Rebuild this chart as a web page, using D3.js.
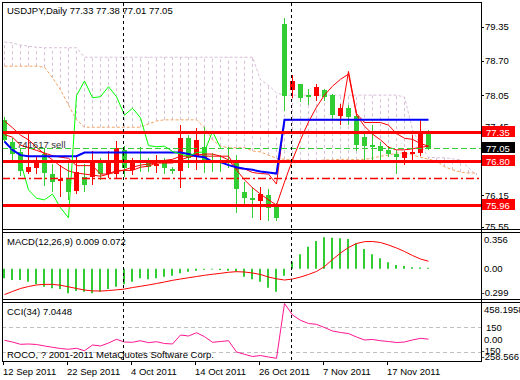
<!DOCTYPE html>
<html>
<head>
<meta charset="utf-8">
<script src="https://cdn.jsdelivr.net/npm/d3@7/dist/d3.min.js"></script>
<style>
  body { margin: 0; background: #fff; }
  svg text { font-family: "Liberation Sans", Arial, sans-serif; font-size: 9.5px; fill: #000; }
</style>
</head>
<body>
<svg id="chart" width="520" height="380"></svg>
<script>
// USDJPY daily, bar 0 = 12 Sep 2011, last bar = 24 Nov 2011
const opens  = [77.58,77.16,76.96,76.59,76.66,76.93,76.55,76.42,76.45,76.21,76.49,76.50,76.80,76.55,76.56,77.01,76.63,76.80,76.79,76.70,76.79,76.65,76.61,77.24,76.88,77.07,76.82,76.82,76.82,76.79,76.21,76.09,76.04,76.15,75.95,79.40,78.15,78.26,78.05,78.04,78.15,78.05,77.65,77.80,77.65,77.25,77.11,77.08,77.01,76.94,76.84,76.94,76.94,77.33];
const highs  = [77.63,77.24,77.03,77.36,76.87,77.04,76.75,76.72,76.82,76.91,76.75,76.98,76.85,76.98,77.18,77.08,76.85,77.07,76.86,76.91,76.85,76.69,77.48,77.29,77.43,77.44,76.95,76.91,77.06,76.91,76.40,76.30,76.30,76.27,76.00,79.51,78.43,78.27,78.17,78.26,78.17,78.08,77.89,77.86,77.70,77.37,77.48,77.15,77.08,77.01,76.99,77.29,77.59,77.38];
const lows   = [77.16,76.79,76.51,76.55,76.56,76.32,76.21,76.11,76.06,76.18,76.21,76.34,76.44,76.47,76.47,76.50,76.53,76.59,76.59,76.57,76.56,76.56,76.29,76.67,76.63,76.57,76.59,76.59,76.67,75.81,75.96,75.72,75.68,75.65,75.65,77.74,77.99,77.92,77.86,77.94,77.94,77.58,77.48,77.48,76.98,76.79,76.82,76.82,76.87,76.56,76.72,76.82,76.90,77.01];
const closes = [77.20,76.94,76.59,76.68,76.79,76.56,76.40,76.46,76.21,76.58,76.34,76.82,76.56,76.82,77.05,76.66,76.80,76.77,76.68,76.74,76.66,76.61,77.24,76.86,77.20,76.81,76.79,76.77,76.78,76.25,76.09,76.06,76.17,75.91,75.72,78.04,78.32,78.00,78.02,78.21,78.02,77.67,77.80,77.62,77.09,77.07,77.08,76.98,76.93,76.89,76.96,76.97,77.36,77.05];

// ichimoku lines
const tenkan = [77.30,77.25,77.10,77.05,77.00,76.95,76.90,76.87,76.85,76.71,76.71,76.71,76.55,76.55,76.62,76.62,76.62,76.68,76.70,76.76,76.81,76.83,76.89,76.89,76.89,76.89,76.89,76.89,76.89,76.65,76.65,76.58,76.56,76.55,76.36,77.58,77.58,77.58,77.58,77.58,77.58,77.58,77.58,78.50,77.70,77.53,77.53,77.53,77.48,77.32,77.23,77.21,77.13,77.08];
const kijun  = [77.17,77.01,76.91,76.89,76.89,76.89,76.89,76.89,76.89,76.89,76.96,76.96,76.96,76.96,76.96,76.96,76.96,76.96,76.96,76.96,76.96,76.96,76.96,76.93,76.89,76.87,76.78,76.78,76.72,76.68,76.65,76.63,76.60,76.58,76.56,77.58,77.58,77.58,77.58,77.58,77.58,77.58,77.58,77.58,77.58,77.58,77.58,77.58,77.58,77.58,77.58,77.58,77.58,77.58];
const spanA  = [78.60,78.60,78.60,78.60,78.60,78.58,78.38,78.15,77.86,77.58,77.44,77.44,77.44,77.44,77.44,77.44,77.44,77.44,77.50,77.56,77.58,77.58,77.58,77.58,77.58,77.43,77.20,77.08,77.05,77.05,77.05,76.99,76.97,76.91,76.85,76.83,76.82,76.80,76.78,76.80,76.82,76.82,76.83,76.83,76.82,76.83,76.85,76.89,76.91,76.95,76.95,76.91,76.87,76.83,76.80,76.69,76.63,76.59,76.57,76.57];
const spanB  = [79.06,79.04,79.00,78.98,78.96,78.95,78.95,78.95,78.95,78.95,78.77,78.77,78.77,78.77,78.77,78.77,78.77,78.77,78.77,78.77,78.77,78.77,78.77,78.77,78.77,78.77,78.77,78.77,78.77,78.77,78.77,78.77,78.34,78.24,78.09,78.05,78.05,78.05,78.05,78.05,78.05,78.05,78.05,78.05,78.05,78.05,78.05,78.05,78.05,78.05,78.01,77.39,77.10,76.87,76.86,76.86,76.84,76.82,76.67,76.53];
const chikouShift = 26;
// second red line
const maRed  = [77.56,77.43,77.29,77.20,77.06,76.93,76.82,76.70,76.61,76.57,76.55,76.53,76.51,76.55,76.59,76.63,76.68,76.72,76.74,76.76,76.76,76.76,76.82,76.87,76.91,76.93,76.93,76.89,76.82,76.63,76.44,76.29,76.17,76.06,75.96,76.40,76.82,77.20,77.54,77.82,78.05,78.22,78.35,78.45,77.67,77.46,77.31,77.20,77.06,77.01,77.01,77.03,77.06,77.08];

const macdMain   = [-0.093,-0.110,-0.110,-0.126,-0.152,-0.175,-0.190,-0.197,-0.239,-0.217,-0.223,-0.239,-0.223,-0.197,-0.175,-0.152,-0.126,-0.093,-0.103,-0.093,-0.078,-0.068,-0.045,-0.029,-0.019,-0.010,-0.008,-0.013,-0.019,-0.029,-0.078,-0.103,-0.126,-0.184,-0.223,-0.068,0.068,0.139,0.214,0.269,0.304,0.301,0.295,0.288,0.246,0.191,0.139,0.101,0.062,0.036,0.025,0.015,0.012,0.009];
const macdSignal = [-0.251,-0.221,-0.192,-0.173,-0.158,-0.152,-0.152,-0.161,-0.176,-0.192,-0.207,-0.215,-0.217,-0.212,-0.205,-0.198,-0.183,-0.171,-0.158,-0.144,-0.129,-0.113,-0.100,-0.088,-0.076,-0.064,-0.054,-0.045,-0.035,-0.029,-0.032,-0.042,-0.056,-0.081,-0.098,-0.110,-0.100,-0.081,-0.056,-0.027,0.021,0.089,0.152,0.206,0.244,0.262,0.264,0.254,0.230,0.201,0.167,0.128,0.094,0.072];
const cci = [-7,-28,-56,-52,-58,-76,-92,-107,-116,-104,-134,-64,-76,-40,5,-28,-31,-12,-36,-24,-46,-52,57,45,85,37,-31,-22,-12,-149,-177,-204,-192,-210,-226,440,300,236,197,187,148,106,88,75,33,-3,3,-12,-22,-34,-28,-3,17,7.04];

const tickBars   = [0, 8, 16, 24, 32, 40, 48];
const tickLabels = ["12 Sep 2011","22 Sep 2011","4 Oct 2011","14 Oct 2011","26 Oct 2011","7 Nov 2011","17 Nov 2011"];
const priceTicks = [79.35, 78.70, 78.05, 77.45, 76.15, 75.55];
const redLevels  = [77.35, 76.80, 75.96];
const dashDotLevel = 76.48;
const bidPrice   = 77.05;
const vlineBars  = [15, 36];

const GREEN = "#32cd32", RED = "#ff0000";
const AX = 481;

const svg = d3.select("#chart");
const defs = svg.append("defs");
function clip(id, y0, y1) {
    defs.append("clipPath").attr("id", id)
        .append("rect").attr("x", 2).attr("y", y0).attr("width", AX - 2).attr("height", y1 - y0);
}
clip("cMain", 2, 229);
clip("cMacd", 232, 299.5);
clip("cCci", 302, 361);

const x = d3.scaleLinear().domain([0, 53]).range([4, 428]);
const cx = i => Math.round(x(i));
const y = d3.scaleLinear().domain([75.55, 79.35]).range([226.7, 26.7]);
const yM = d3.scaleLinear().domain([-0.299, 0.356]).range([299.5, 232]);
const yC = d3.scaleLinear().domain([-258.566, 458.1958]).range([361, 302]);

// ---------- main window ----------
const g = svg.append("g").attr("clip-path", "url(#cMain)");

// cloud hatching
g.selectAll("line.hatch").data(spanA).join("line")
    .attr("x1", (d, i) => cx(i) + 0.5).attr("x2", (d, i) => cx(i) + 0.5)
    .attr("y1", d => y(d)).attr("y2", (d, i) => y(spanB[i]))
    .attr("stroke", "#d8bfd8").attr("stroke-dasharray", "3,3");

const priceLine = d3.line().x((d, i) => cx(i) + 0.5).y(d => y(d));
g.append("path").attr("d", priceLine(spanB)).attr("fill", "none")
    .attr("stroke", "#d8bfd8").attr("stroke-dasharray", "3,2");
g.append("path").attr("d", priceLine(spanA)).attr("fill", "none")
    .attr("stroke", "#f4a460").attr("stroke-dasharray", "3,2");

// candles
const bars = opens.map((o, i) => ({ i, o, h: highs[i], l: lows[i], c: closes[i] }));
const colorOf = d => d.c > d.o ? RED : GREEN;
g.selectAll("line.wick").data(bars).join("line")
    .attr("x1", d => cx(d.i) + 0.5).attr("x2", d => cx(d.i) + 0.5)
    .attr("y1", d => Math.round(y(d.h))).attr("y2", d => Math.round(y(d.l)))
    .attr("stroke", colorOf);
g.selectAll("rect.body").data(bars).join("rect")
    .attr("x", d => cx(d.i) - 2).attr("width", 5)
    .attr("y", d => Math.round(y(Math.max(d.o, d.c))))
    .attr("height", d => Math.max(1, Math.round(Math.abs(y(d.o) - y(d.c)))))
    .attr("fill", colorOf);

// indicator lines
g.append("path").attr("d", priceLine(maRed)).attr("fill", "none").attr("stroke", RED);
g.append("path").attr("d", priceLine(tenkan)).attr("fill", "none").attr("stroke", RED);
g.append("path").attr("d", priceLine(kijun)).attr("fill", "none").attr("stroke", "#0000ff").attr("stroke-width", 2);
const chikou = closes.slice(chikouShift);
g.append("path").attr("d", priceLine(chikou)).attr("fill", "none").attr("stroke", "#00ff00");

// objects
g.selectAll("line.lvl").data(redLevels).join("line")
    .attr("x1", 2).attr("x2", AX).attr("y1", d => Math.round(y(d)) + 0.5).attr("y2", d => Math.round(y(d)) + 0.5)
    .attr("stroke", RED).attr("stroke-width", 3);
g.append("line").attr("x1", 2).attr("x2", AX)
    .attr("y1", Math.round(y(dashDotLevel)) + 0.5).attr("y2", Math.round(y(dashDotLevel)) + 0.5)
    .attr("stroke", RED).attr("stroke-width", 1.5).attr("stroke-dasharray", "8,3,2,3");
g.append("line").attr("x1", 2).attr("x2", AX)
    .attr("y1", Math.round(y(bidPrice)) + 0.5).attr("y2", Math.round(y(bidPrice)) + 0.5)
    .attr("stroke", GREEN).attr("stroke-dasharray", "6,3");

svg.append("text").attr("x", 17).attr("y", 147.5).style("fill", "#333").text("741617 sell");
svg.append("text").attr("x", 7).attr("y", 13.5).text("USDJPY,Daily  77.33 77.38 77.01 77.05");

// price scale
svg.selectAll("text.pt").data(priceTicks).join("text")
    .attr("x", 485).attr("y", d => y(d) + 3.5).text(d => d.toFixed(2));
svg.selectAll("line.pt").data(priceTicks).join("line")
    .attr("x1", AX).attr("x2", AX + 3).attr("y1", d => Math.round(y(d)) + 0.5).attr("y2", d => Math.round(y(d)) + 0.5)
    .attr("stroke", "#000");

const tags = redLevels.map(v => ({ v, bg: RED })).concat([{ v: bidPrice, bg: "#000" }]);
svg.selectAll("rect.tag").data(tags).join("rect")
    .attr("x", 482).attr("y", d => Math.round(y(d.v)) - 6).attr("width", 33).attr("height", 11)
    .attr("fill", d => d.bg);
svg.selectAll("text.tag").data(tags).join("text")
    .attr("x", 486).attr("y", d => Math.round(y(d.v)) + 3.5)
    .style("fill", "#fff").text(d => d.v.toFixed(2));

// ---------- MACD ----------
const gm = svg.append("g").attr("clip-path", "url(#cMacd)");
gm.selectAll("line.h").data(macdMain).join("line")
    .attr("x1", (d, i) => cx(i)).attr("x2", (d, i) => cx(i))
    .attr("y1", yM(0)).attr("y2", d => yM(d))
    .attr("stroke", GREEN).attr("stroke-width", 2);
gm.append("path").attr("fill", "none").attr("stroke", RED)
    .attr("d", d3.line().x((d, i) => cx(i) + 0.5).y(d => yM(d))(macdSignal));
svg.append("text").attr("x", 7).attr("y", 244.5).text("MACD(12,26,9) 0.009 0.072");
svg.append("text").attr("x", 484).attr("y", 243).text("0.356");
svg.append("text").attr("x", 484).attr("y", yM(0) + 3.5).text("0.00");
svg.append("text").attr("x", 481.5).attr("y", 295.5).text("-0.299");

// ---------- CCI ----------
const gc = svg.append("g").attr("clip-path", "url(#cCci)");
gc.selectAll("line.lv").data([150, -150]).join("line")
    .attr("x1", 2).attr("x2", AX).attr("y1", d => Math.round(yC(d)) + 0.5).attr("y2", d => Math.round(yC(d)) + 0.5)
    .attr("stroke", "#c0c0c0").attr("stroke-dasharray", "4,3");
gc.append("path").attr("fill", "none").attr("stroke", "#ff1493")
    .attr("d", d3.line().x((d, i) => cx(i) + 0.5).y(d => yC(d))(cci));
svg.append("text").attr("x", 7).attr("y", 314.5).text("CCI(34) 7.0448");
svg.append("text").attr("x", 7).attr("y", 357.5).text("ROCO, ? 2001-2011 MetaQuotes Software Corp.");
svg.append("text").attr("x", 484).attr("y", 312.5).text("458.1958");
svg.append("text").attr("x", 486).attr("y", yC(150) + 3.5).text("150");
svg.append("text").attr("x", 484).attr("y", yC(0) + 3.5).text("0.00");
svg.append("text").attr("x", 481.5).attr("y", yC(-150) + 1.5).text("-150");
svg.append("text").attr("x", 481.5).attr("y", 360).text("-258.566");

// ---------- frames, separators, vertical lines ----------
const frame = svg.append("g").attr("stroke", "#000").attr("fill", "none");
frame.append("line").attr("x1", 2.5).attr("x2", 2.5).attr("y1", 2).attr("y2", 361);
frame.append("line").attr("x1", AX + 0.5).attr("x2", AX + 0.5).attr("y1", 2).attr("y2", 361);
frame.append("line").attr("x1", 2).attr("x2", AX + 1).attr("y1", 2.5).attr("y2", 2.5);
[229.5, 232.5, 299.5, 302.5].forEach(v =>
    frame.append("line").attr("x1", 2).attr("x2", 520).attr("y1", v).attr("y2", v));
frame.append("line").attr("x1", 2).attr("x2", AX + 1).attr("y1", 361.5).attr("y2", 361.5);

svg.selectAll("line.vl").data(vlineBars).join("line")
    .attr("x1", d => cx(d) - 0.5).attr("x2", d => cx(d) - 0.5)
    .attr("y1", 3).attr("y2", 361)
    .attr("stroke", "#000").attr("stroke-dasharray", "3,3");

// time scale
svg.selectAll("line.tk").data(tickBars).join("line")
    .attr("x1", d => cx(d) - 0.5).attr("x2", d => cx(d) - 0.5).attr("y1", 362).attr("y2", 365)
    .attr("stroke", "#000");
svg.selectAll("text.tk").data(tickBars).join("text")
    .attr("x", d => cx(d) - 1).attr("y", 374.5).text((d, i) => tickLabels[i]);
</script>
</body>
</html>
